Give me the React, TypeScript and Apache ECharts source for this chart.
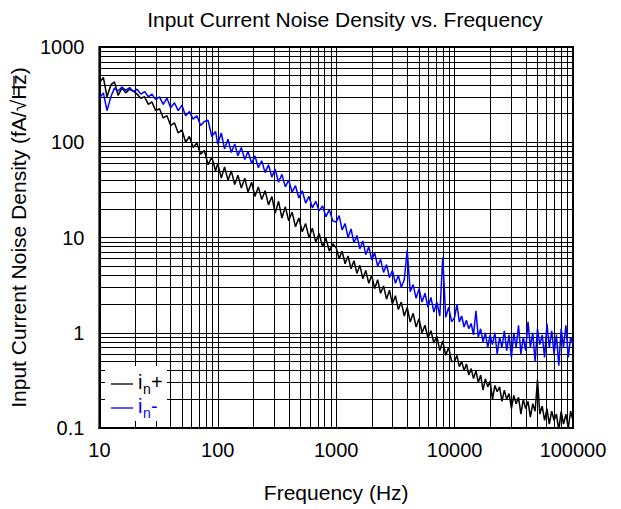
import React, { useEffect, useRef } from "react";
import * as echarts from "echarts";

const freq = [
  10, 10.8, 11.6, 12.5, 13.4, 14.4, 15.5, 16.7, 18, 19.3, 20.8, 22.4, 24.1, 25.9, 27.8, 29.9, 32.2, 34.6, 37.2, 40,
  43, 46.3, 49.8, 53.5, 57.6, 61.9, 66.6, 71.6, 77, 82.8, 89, 95.7,
  100, 107, 114, 122, 130, 139, 148, 158, 169, 180, 193, 206, 220, 235, 251, 268, 286, 305, 326, 348,
  372, 397, 424, 453, 484, 517, 552, 589, 629, 672, 718, 767, 819, 875, 934,
  1000, 1059, 1122, 1189, 1259, 1334, 1413, 1496, 1585, 1679, 1778, 1884, 1995, 2113, 2239, 2371, 2512, 2661, 2818, 2985,
  3162, 3350, 3548, 3758, 3981, 4217, 4467, 4732, 5012, 5309, 5623, 5957, 6310, 6683, 7079, 7499, 7943, 8414, 8913, 9441,
  10000, 10470, 10960, 11480, 12020, 12590, 13180, 13800, 14450, 15140, 15850, 16600, 17380, 18200, 19050, 19950, 20890,
  21880, 22910, 23990, 25120, 26300, 27540, 28840, 30200, 31620, 33110, 34670, 36310, 38020, 39810, 41690, 43650, 45710,
  47860, 50120, 52480, 54950, 57540, 60260, 63100, 66070, 69180, 72440, 75860, 79430, 83180, 87100, 91200, 95500, 100000,
];

const inPlus = [
  420, 480, 300, 400, 430, 310, 370, 330, 360, 345, 320, 290, 300, 250, 265, 215, 225, 180, 190, 150,
  160, 125, 135, 100, 115, 88, 98, 75, 82, 58, 70, 50,
  60, 42, 55, 40, 50, 36, 45, 33, 42, 30, 38, 27, 34, 25, 31, 22, 27, 18, 24, 16,
  21, 15, 18.5, 13, 16, 11.5, 14, 10, 12.5, 9, 11, 8, 9.8, 7.2, 8.6,
  7.8, 6.0, 7.2, 5.3, 6.4, 4.7, 5.7, 4.2, 5.1, 3.7, 4.5, 3.3, 4.0, 2.9, 3.6, 2.6, 3.1, 2.25, 2.8, 2.0,
  2.45, 1.75, 2.1, 1.5, 1.85, 1.3, 1.6, 1.15, 1.4, 1.0, 1.2, 0.88, 1.05, 0.78, 0.92, 0.65, 0.82, 0.58, 0.7, 0.5,
  0.5, 0.58, 0.44, 0.5, 0.4, 0.47, 0.36, 0.42, 0.33, 0.4, 0.3, 0.36, 0.25, 0.33, 0.27, 0.31, 0.2,
  0.28, 0.24, 0.27, 0.19, 0.25, 0.2, 0.23, 0.16, 0.22, 0.18, 0.21, 0.14, 0.2, 0.16, 0.19, 0.13, 0.18,
  0.15, 0.32, 0.14, 0.17, 0.12, 0.16, 0.11, 0.15, 0.12, 0.14, 0.095, 0.15, 0.11, 0.14, 0.1, 0.15, 0.12,
];

const inMinus = [
  290, 330, 215, 300, 370, 345, 380, 350, 375, 340, 360, 320, 340, 300, 320, 280, 300, 250, 290, 230,
  260, 215, 245, 190, 210, 175, 190, 150, 165, 170, 115, 130,
  95, 125, 85, 108, 78, 96, 72, 88, 66, 80, 60, 72, 54, 64, 48, 58, 43, 52, 38, 46,
  34, 40, 30, 35, 26, 31, 23, 27, 20.5, 24, 19, 21.5, 16.5, 19.5, 15,
  14.5, 17, 12, 14, 10, 12.3, 8.8, 10.5, 7.6, 9.2, 6.6, 8, 5.8, 6.9, 5.0, 5.9, 4.3, 5.2, 3.8, 4.5,
  3.3, 4.0, 3.0, 3.6, 7.4, 2.7, 3.2, 2.3, 2.9, 2.1, 2.6, 1.85, 2.35, 1.65, 2.1, 1.5, 6.2, 1.45, 1.85, 1.3,
  1.45, 2.0, 1.3, 1.5, 1.15, 1.35, 1.1, 1.25, 0.95, 1.7, 0.9, 1.1, 0.8, 1.0, 0.7, 0.95, 0.75,
  1.0, 0.6, 0.9, 0.7, 1.05, 0.65, 0.95, 0.55, 1.0, 0.7, 1.2, 0.6, 0.9, 0.65, 1.3, 0.7, 1.0,
  0.5, 1.1, 0.75, 0.95, 0.55, 1.25, 0.7, 1.05, 0.6, 0.95, 0.45, 1.1, 0.7, 1.2, 0.55, 0.9, 0.75,
];

const xDecades = [10, 100, 1000, 10000];
const yDecades = [0.1, 1, 10, 100];
const minorSteps = [2, 3, 4, 5, 6, 7, 8, 9];

const FONT = "'Liberation Sans', Arial, sans-serif";

const fmt = (v: number) => String(Number(v.toPrecision(6)));

export default function App() {
  const ref = useRef<HTMLDivElement>(null);
  useEffect(() => {
    if (!ref.current) return;
    const chart = echarts.init(ref.current, undefined, { renderer: "svg" });
    const xMinor: any[] = [];
    xDecades.forEach((d) => minorSteps.forEach((m) => xMinor.push({ xAxis: fmt(d * m) })));
    const yMinor: any[] = [];
    yDecades.forEach((d) => minorSteps.forEach((m) => yMinor.push({ yAxis: fmt(d * m) })));

    chart.setOption({
      animation: false,
      title: {
        text: "Input Current Noise Density vs. Frequency",
        left: 340,
        top: 4,
        textAlign: "center",
        textStyle: { fontFamily: FONT, fontSize: 21, fontWeight: "normal", color: "#000" },
      },
      grid: {
        left: 98,
        right: 48,
        top: 47,
        bottom: 81,
        show: true,
        borderColor: "#000",
        borderWidth: 2,
        backgroundColor: "#fff",
      },
      xAxis: {
        type: "log",
        logBase: 10,
        min: 10,
        max: 100000,
        name: "Frequency (Hz)",
        nameLocation: "middle",
        nameGap: 54,
        nameTextStyle: { fontFamily: FONT, fontSize: 21, color: "#000" },
        axisLine: { show: true, lineStyle: { color: "#000", width: 2 } },
        axisTick: { show: false },
        splitLine: { show: true, lineStyle: { color: "#000", width: 1 } },
        axisLabel: { fontFamily: FONT, fontSize: 20, color: "#000", margin: 12, formatter: (v: number) => fmt(v) },
      },
      yAxis: {
        type: "log",
        logBase: 10,
        min: 0.1,
        max: 1000,
        name: "Input Current Noise Density (fA/\u221AHz)",
        nameLocation: "middle",
        nameGap: 66,
        nameTextStyle: { fontFamily: FONT, fontSize: 21, color: "#000" },
        axisLine: { show: true, lineStyle: { color: "#000", width: 2 } },
        axisTick: { show: false },
        splitLine: { show: true, lineStyle: { color: "#000", width: 1 } },
        axisLabel: { fontFamily: FONT, fontSize: 20, color: "#000", margin: 15, formatter: (v: number) => fmt(v) },
      },
      series: [
        {
          type: "line",
          data: [[10, 1]],
          symbol: "none",
          lineStyle: { opacity: 0 },
          silent: true,
          z: 1,
          markLine: {
            silent: true,
            symbol: ["none", "none"],
            label: { show: false },
            z: 1,
            lineStyle: { color: "#000", width: 1, type: "solid" },
            emphasis: { disabled: true },
            data: [...xMinor, ...yMinor],
          },
        },
        {
          name: "in+",
          type: "line",
          data: freq.map((f, i) => [f, inPlus[i]]),
          symbol: "none",
          clip: true,
          z: 6,
          lineStyle: { color: "#000", width: 1.5 },
        },
        {
          name: "in-",
          type: "line",
          data: freq.map((f, i) => [f, inMinus[i]]),
          symbol: "none",
          clip: true,
          z: 7,
          lineStyle: { color: "#0000ff", width: 1.5 },
        },
      ],
      graphic: [
        { type: "rect", z: 20, shape: { x: 105, y: 366, width: 62, height: 55 }, style: { fill: "#fff" } },
        { type: "line", z: 21, shape: { x1: 111, y1: 384, x2: 133, y2: 384 }, style: { stroke: "#000", lineWidth: 1.3 } },
        { type: "line", z: 21, shape: { x1: 111, y1: 408, x2: 133, y2: 408 }, style: { stroke: "#0000ff", lineWidth: 1.3 } },
        { type: "text", z: 21, x: 138, y: 382, style: { text: "i", font: "20px " + FONT, fill: "#000", verticalAlign: "middle" } },
        { type: "text", z: 21, x: 143, y: 389, style: { text: "n", font: "14px " + FONT, fill: "#000", verticalAlign: "middle" } },
        { type: "text", z: 21, x: 151, y: 382, style: { text: "+", font: "20px " + FONT, fill: "#000", verticalAlign: "middle" } },
        { type: "text", z: 21, x: 138, y: 406, style: { text: "i", font: "20px " + FONT, fill: "#0000ff", verticalAlign: "middle" } },
        { type: "text", z: 21, x: 143, y: 413, style: { text: "n", font: "14px " + FONT, fill: "#0000ff", verticalAlign: "middle" } },
        { type: "text", z: 21, x: 151, y: 406, style: { text: "-", font: "20px " + FONT, fill: "#0000ff", verticalAlign: "middle" } },
        { type: "line", z: 21, shape: { x1: 14, y1: 76, x2: 14, y2: 95 }, style: { stroke: "#000", lineWidth: 1.3 } },
      ],
    });
    return () => chart.dispose();
  }, []);
  return <div ref={ref} style={{ position: "absolute", left: 0, top: 0, width: 621, height: 509 }} />;
}
